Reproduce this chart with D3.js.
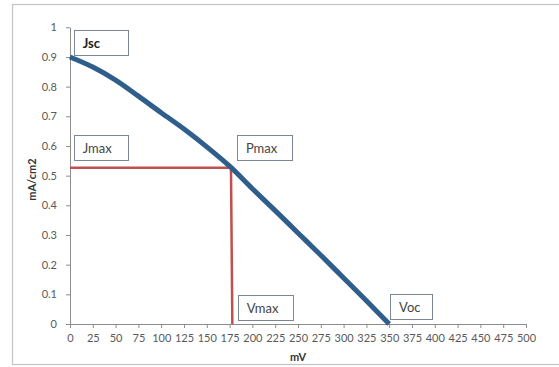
<!DOCTYPE html>
<html>
<head>
<meta charset="utf-8">
<script src="https://cdn.jsdelivr.net/npm/d3@7/dist/d3.min.js"></script>
<style>
  html, body { margin: 0; padding: 0; background: #fff; }
  svg { display: block; }
  text { font-family: Lato, "Open Sans", sans-serif; }
</style>
</head>
<body>
<svg id="chart" width="559" height="367"></svg>
<script>
// J-V curve of the cell (mV vs mA/cm2)
const voltage = [0, 25, 50, 75, 100, 125, 150, 175, 200, 225, 250, 275, 300, 325, 350];
const current = [0.9, 0.866, 0.822, 0.768, 0.712, 0.657, 0.597, 0.532, 0.456, 0.382, 0.307, 0.232, 0.155, 0.078, 0];

// Maximum power point
const vmax = [176.5, 178];
const jmax = 0.527;

const xTicks = d3.range(0, 501, 25);
const yTicks = [0, 0.1, 0.2, 0.3, 0.4, 0.5, 0.6, 0.7, 0.8, 0.9, 1];

// Annotation boxes: anchor in data units, text, bold flag
const labelText = ["Jsc", "Jmax", "Pmax", "Vmax", "Voc"];
const labelX = [4, 4, 183, 184, 351];
const labelY = [0.99, 0.636, 0.636, 0.097, 0.101];
const labelW = [54, 54, 55, 55, 42];
const labelBold = [true, false, false, false, false];

const svg = d3.select("#chart");

// chart frame
svg.append("rect")
  .attr("x", 12.5).attr("y", 4.5)
  .attr("width", 600).attr("height", 360)
  .attr("fill", "#fff").attr("stroke", "#c4c4c4").attr("stroke-width", 1.2);

const x = d3.scaleLinear().domain([0, 500]).range([70, 526]);
const y = d3.scaleLinear().domain([0, 1]).range([324, 27.3]);

const axisColor = "#8c8c8c";
const textColor = "#595959";

// x axis
const gx = svg.append("g").attr("transform", `translate(0,${y(0)})`)
  .call(d3.axisBottom(x).tickValues(xTicks).tickSize(4).tickSizeOuter(0).tickPadding(6).tickFormat(d3.format("d")));
gx.select(".domain").attr("stroke", axisColor);
gx.selectAll(".tick line").attr("stroke", axisColor);
gx.selectAll(".tick text").attr("fill", textColor).attr("font-size", 11)
  .attr("font-family", "Lato, sans-serif");

// y axis
const gy = svg.append("g").attr("transform", `translate(${x(0)},0)`)
  .call(d3.axisLeft(y).tickValues(yTicks).tickSize(4).tickSizeOuter(0).tickPadding(9).tickFormat(d => d === 0 || d === 1 ? String(d) : d3.format(".1f")(d)));
gy.select(".domain").attr("stroke", axisColor);
gy.selectAll(".tick line").attr("stroke", axisColor);
gy.selectAll(".tick text").attr("fill", textColor).attr("font-size", 11)
  .attr("font-family", "Lato, sans-serif");

// axis titles
svg.append("text").attr("x", 298).attr("y", 361)
  .attr("text-anchor", "middle").attr("font-size", 11).attr("font-weight", "bold")
  .attr("fill", "#333").text("mV");
svg.append("text")
  .attr("transform", `translate(36,${y(0.5) + 4}) rotate(-90)`)
  .attr("text-anchor", "middle").attr("font-size", 11).attr("font-weight", "bold")
  .attr("fill", "#333").text("mA/cm2");

// max power rectangle guides
svg.append("path")
  .attr("d", d3.line()([[x(0), y(jmax)], [x(vmax[0]), y(jmax)], [x(vmax[1]), y(0)]]))
  .attr("fill", "none").attr("stroke", "#c0504d").attr("stroke-width", 2.5);

// J-V curve
svg.append("path")
  .datum(voltage.map((v, i) => [v, current[i]]))
  .attr("d", d3.line().curve(d3.curveCatmullRom.alpha(0.5)).x(d => x(d[0])).y(d => y(d[1])))
  .attr("fill", "none").attr("stroke", "#2f5d8c").attr("stroke-width", 5)
  .attr("stroke-linejoin", "round");

// annotation boxes
labelText.forEach((t, i) => {
  const bx = x(labelX[i]), by = y(labelY[i]);
  const g = svg.append("g");
  g.append("rect").attr("x", Math.round(bx) + 0.5).attr("y", Math.round(by) + 0.5)
    .attr("width", labelW[i]).attr("height", 25)
    .attr("fill", "#fff").attr("stroke", "#7b8794").attr("stroke-width", 1);
  g.append("text").attr("x", bx + 9).attr("y", by + 17.5)
    .attr("font-size", 13).attr("font-weight", labelBold[i] ? "bold" : "normal")
    .attr("fill", labelBold[i] ? "#222" : "#444").text(t);
});
</script>
</body>
</html>
